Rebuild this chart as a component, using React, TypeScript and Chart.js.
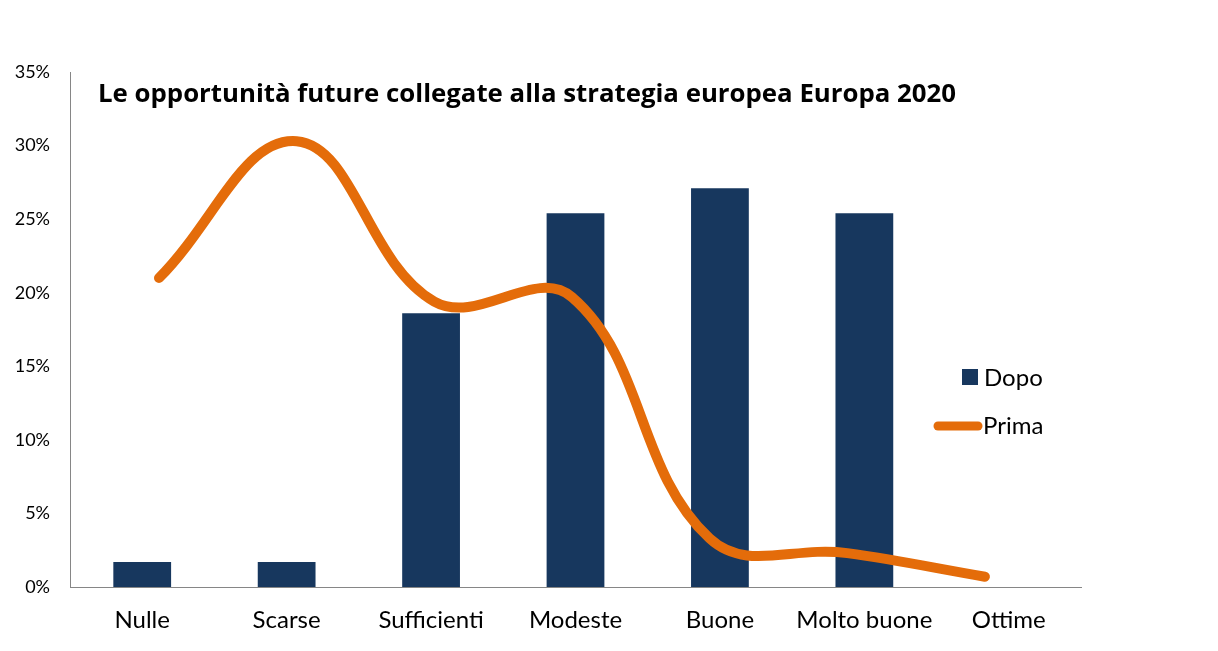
import React, { useEffect, useRef } from "react";
import { Chart, registerables } from "chart.js";

Chart.register(...registerables);

const categories = ["Nulle", "Scarse", "Sufficienti", "Modeste", "Buone", "Molto buone", "Ottime"];
const dopoValues = [1.7, 1.7, 18.6, 25.4, 27.1, 25.4, 0];
const primaValues = [21.0, 30.3, 19.4, 19.7, 3.3, 2.3, 0.7];
const yTicks = [0, 5, 10, 15, 20, 25, 30, 35];
const titleText = "Le opportunità future collegate alla strategia europea Europa 2020";
const seriesNames = ["Dopo", "Prima"];

const NAVY = "#17375E";
const ORANGE = "#E46C0A";
const AXIS = "#868686";
const FONT = "Lato, 'Open Sans', sans-serif";
const TITLE_FONT = "'Open Sans', Lato, sans-serif";

const overlayPlugin = {
  id: "overlay",
  afterDraw(chart: any) {
    const ctx = chart.ctx;
    const area = chart.chartArea;
    ctx.save();
    // title
    ctx.fillStyle = "#000";
    ctx.font = `bold 25.8px ${TITLE_FONT}`;
    ctx.textAlign = "left";
    ctx.textBaseline = "middle";
    ctx.fillText(titleText, area.left + 28, 95);
    // legend
    ctx.font = `24px ${FONT}`;
    ctx.fillStyle = NAVY;
    ctx.fillRect(962, 369, 16, 16);
    ctx.fillStyle = "#000";
    ctx.fillText(seriesNames[0], 984, 378);
    ctx.strokeStyle = ORANGE;
    ctx.lineWidth = 9;
    ctx.lineCap = "round";
    ctx.beginPath();
    ctx.moveTo(938, 426);
    ctx.lineTo(978, 426);
    ctx.stroke();
    ctx.fillText(seriesNames[1], 983, 426);
    ctx.restore();
  },
};

export default function App() {
  const ref = useRef<HTMLCanvasElement | null>(null);
  useEffect(() => {
    document.body.style.margin = "0";
    const canvas = ref.current;
    if (!canvas) return;
    const chart = new Chart(canvas, {
      type: "bar",
      data: {
        labels: categories,
        datasets: [
          {
            type: "line",
            label: seriesNames[1],
            data: primaValues.map((v, i) => ({ x: i, y: v })),
            xAxisID: "x2",
            borderColor: ORANGE,
            borderWidth: 10,
            borderCapStyle: "round",
            borderJoinStyle: "round",
            tension: 0.4,
            pointRadius: 0,
            fill: false,
            order: 0,
            clip: false,
          } as any,
          {
            type: "bar",
            label: seriesNames[0],
            data: dopoValues,
            xAxisID: "x",
            backgroundColor: NAVY,
            categoryPercentage: 1,
            barPercentage: 0.4,
            grouped: false,
            order: 1,
          },
        ],
      },
      options: {
        animation: false,
        responsive: true,
        maintainAspectRatio: false,
        layout: { padding: { top: 72, right: 137, left: 0, bottom: 0 } },
        plugins: {
          legend: { display: false },
          title: { display: false },
          tooltip: { enabled: false },
        },
        scales: {
          x: {
            type: "category",
            grid: { display: false, drawTicks: false },
            border: { display: true, color: AXIS, width: 1 },
            ticks: { color: "#000", font: { family: FONT, size: 24 }, padding: 19, maxRotation: 0, autoSkip: false },
            afterFit: (s: any) => { s.height = 64; },
          },
          x2: {
            type: "linear",
            axis: "x",
            display: false,
            offset: false,
            min: -0.6465,
            max: 6.698,
          },
          y: {
            min: 0,
            max: 35,
            grid: { display: false, drawTicks: false },
            border: { display: true, color: AXIS, width: 1 },
            afterBuildTicks: (s: any) => { s.ticks = yTicks.map((v) => ({ value: v })); },
            ticks: {
              color: "#000",
              font: { family: FONT, size: 18 },
              padding: 20,
              callback: (v: any) => `${v}%`,
            },
            afterFit: (s: any) => { s.width = 70; },
          },
        },
      } as any,
      plugins: [overlayPlugin],
    });
    return () => chart.destroy();
  }, []);
  return (
    <div style={{ position: "relative", width: 1218, height: 651 }}>
      <canvas ref={ref} />
    </div>
  );
}
